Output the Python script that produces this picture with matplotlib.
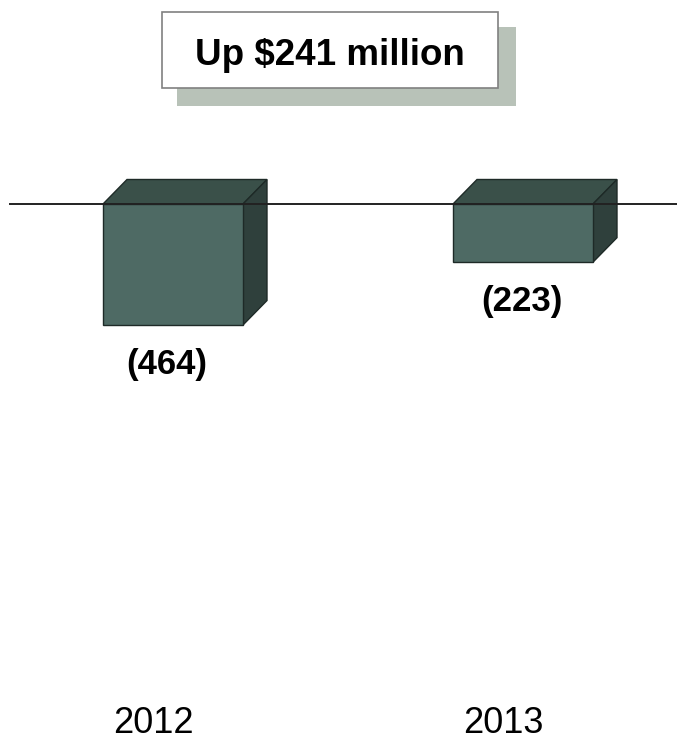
import matplotlib
matplotlib.use("Agg")
import matplotlib.pyplot as plt
from matplotlib.patches import Polygon, Rectangle

plt.rcParams['font.family'] = ['Liberation Sans', 'DejaVu Sans']

# chart data
years = ['2012', '2013']
values = [-464, -223]
value_labels = ['(464)', '(223)']
headline = 'Up $241 million'

# colours of the box faces
front_col = '#4e6a64'
top_col = '#3a5049'
side_col = '#2f403c'
edge_col = '#1e2a27'

W, H = 677, 737
fig = plt.figure(figsize=(W / 100, H / 100), dpi=100)
ax = fig.add_axes([0, 0, 1, 1])

# pixel layout: category spacing and value scale
px_per_cat = 350.0
x0_px = 173.0
px_per_unit = 0.2608
zero_px = 204.0
ax.set_xlim(-x0_px / px_per_cat, (W - x0_px) / px_per_cat)
ax.set_ylim(-(H - zero_px) / px_per_unit, zero_px / px_per_unit)
ax.axis('off')

bar_w = 140 / px_per_cat
dx = 24 / px_per_cat
dy = 24.5 / px_per_unit
label_shift = [-6, -1]

for i, v in enumerate(values):
    l, r = i - bar_w / 2, i + bar_w / 2
    # top face
    ax.add_patch(Polygon([(l, 0), (r, 0), (r + dx, dy), (l + dx, dy)],
                         closed=True, fc=top_col, ec=edge_col, lw=1, zorder=2))
    # side face
    ax.add_patch(Polygon([(r, 0), (r + dx, dy), (r + dx, v + dy), (r, v)],
                         closed=True, fc=side_col, ec=edge_col, lw=1, zorder=2))
    # front face
    ax.add_patch(Rectangle((l, v), bar_w, -v, fc=front_col, ec=edge_col,
                           lw=1, zorder=3))
    ax.annotate(value_labels[i], (i, v), xytext=(label_shift[i], -49),
                textcoords='offset pixels', ha='center', va='baseline',
                fontsize=25, fontweight='bold')
    ax.annotate(years[i], (i, ax.get_ylim()[0]), xytext=(-20, 4),
                textcoords='offset pixels', ha='center', va='baseline',
                fontsize=26)

# zero line
ax.axhline(0, xmin=10 / W, xmax=1, color='#222222', lw=1.4, zorder=4)

# headline box with drop shadow
ax.add_patch(Rectangle((177 / W, 1 - 106 / H), (516 - 177) / W, (106 - 27) / H,
                       transform=ax.transAxes, fc='#b8c2b8', ec='none', zorder=5))
ax.add_patch(Rectangle((162 / W, 1 - 88 / H), (498 - 162) / W, (88 - 12) / H,
                       transform=ax.transAxes, fc='white', ec='#808080', lw=1.2,
                       zorder=6))
ax.text(330 / W, 1 - 65 / H, headline, transform=ax.transAxes, ha='center',
        va='baseline', fontsize=26.5, fontweight='bold', zorder=7)

fig.savefig('out.png', dpi=100)
